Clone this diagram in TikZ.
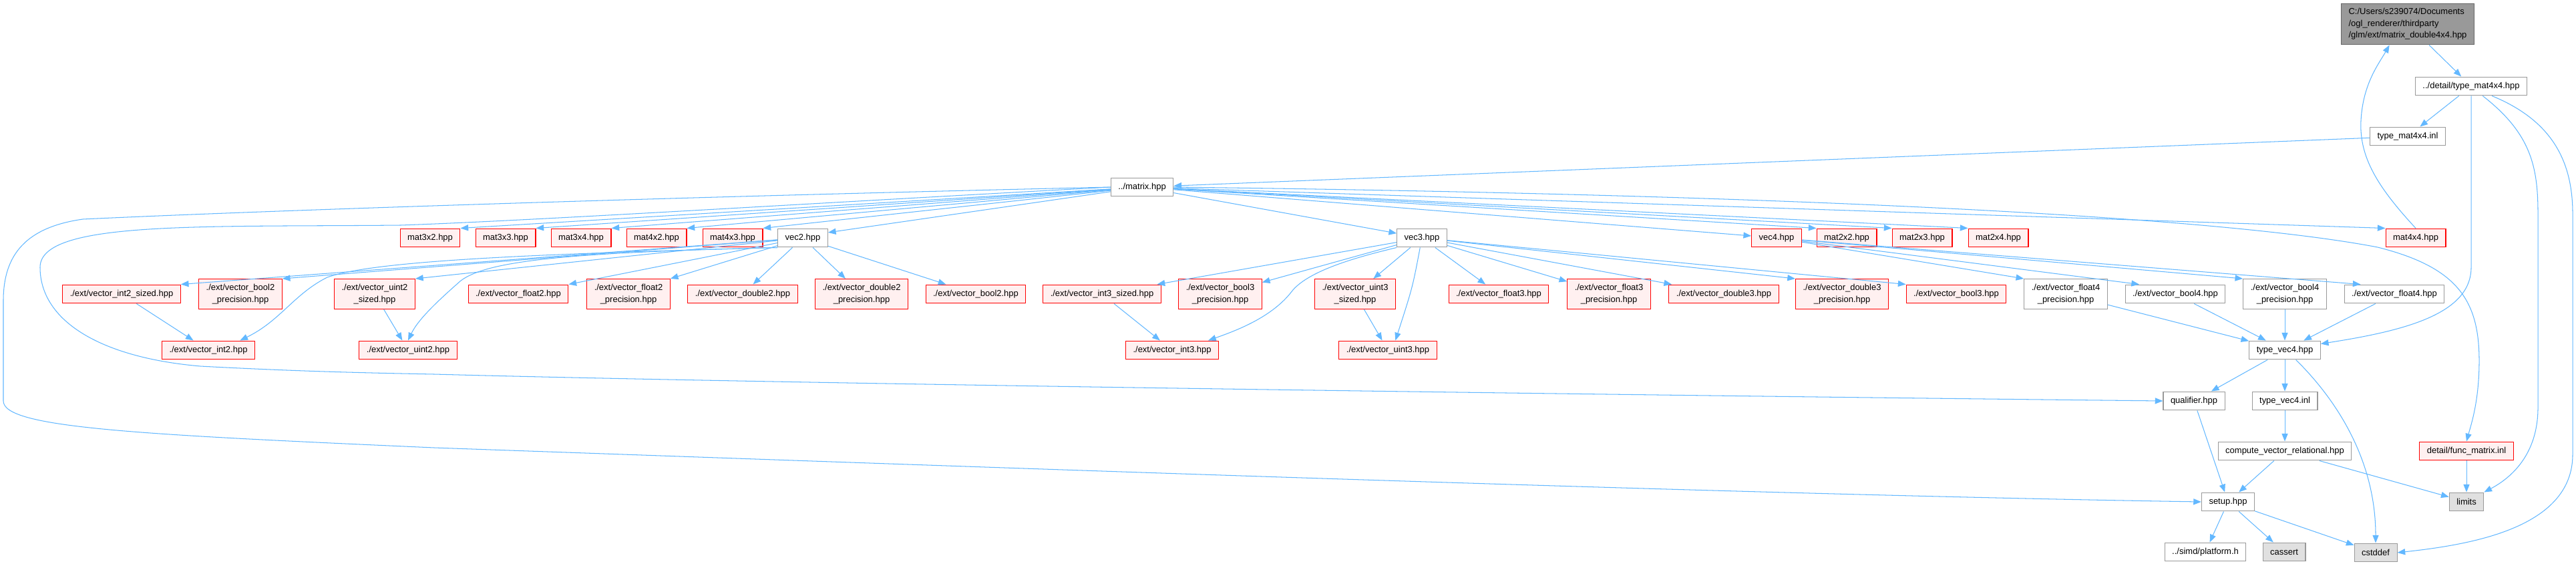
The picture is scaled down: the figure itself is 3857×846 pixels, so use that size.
\documentclass[tikz,border=0pt]{standalone}
\usepackage{fontspec}
\setmainfont{Liberation Sans}
\usetikzlibrary{arrows.meta}

\definecolor{doxblue}{HTML}{63B8FF}
\definecolor{doxgray}{HTML}{999999}
\definecolor{doxdark}{HTML}{666666}
\definecolor{doxlight}{HTML}{E0E0E0}
\definecolor{doxpink}{HTML}{FFF0F0}
\newcommand{\graphfont}{\fontsize{10}{13.5}\selectfont}

\begin{document}
\begin{tikzpicture}[x=0.77pt, y=-0.77pt,
        filenode/.style={rectangle, draw=doxgray, fill=white, line width=0.8pt, inner xsep=8.5pt, inner ysep=3pt, minimum height=21.5pt, font=\graphfont, align=center},
        rednode/.style={filenode, draw=red, fill=doxpink},
        sysnode/.style={filenode, fill=doxlight},
        rootnode/.style={filenode, draw=doxdark, fill=doxgray, align=left, minimum height=47.7pt},
        twoline/.style={minimum height=34.6pt},
        incl/.style={draw=doxblue, line width=0.8pt, -{Triangle[length=9pt, width=7pt]}},
        ]
                \fill[white] (0,0) rectangle (3857,846);
                \useasboundingbox (0,0) rectangle (3857,846);

                % top of the graph
                \node[rootnode] at(3605,36) (root) {C:/Users/s239074/Documents\\/ogl\_renderer/thirdparty\\/glm/ext/matrix\_double4x4.hpp};
                \node[filenode] at(3700,129) (typemat) {../detail/type\_mat4x4.hpp};
                \node[filenode] at(3605,204) (typematinl) {type\_mat4x4.inl};
                \node[filenode] at(1710,280) (matrix) {../matrix.hpp};

                % matrix.hpp includes
                \node[rednode] at(644,356) (mat3x2) {mat3x2.hpp};
                \node[rednode] at(757,356) (mat3x3) {mat3x3.hpp};
                \node[rednode] at(870,356) (mat3x4) {mat3x4.hpp};
                \node[rednode] at(983,356) (mat4x2) {mat4x2.hpp};
                \node[rednode] at(1097,356) (mat4x3) {mat4x3.hpp};
                \node[filenode] at(1202,356) (vec2) {vec2.hpp};
                \node[filenode] at(2129,356) (vec3) {vec3.hpp};
                \node[rednode] at(2660,356) (vec4) {vec4.hpp};
                \node[rednode] at(2765,356) (mat2x2) {mat2x2.hpp};
                \node[rednode] at(2878,356) (mat2x3) {mat2x3.hpp};
                \node[rednode] at(2992,356) (mat2x4) {mat2x4.hpp};
                \node[rednode] at(3617,356) (mat4x4) {mat4x4.hpp};

                % vec2 row
                \node[rednode] at(182,440) (int2sized) {./ext/vector\_int2\_sized.hpp};
                \node[rednode, twoline] at(360,440) (bool2prec) {./ext/vector\_bool2\\\_precision.hpp};
                \node[rednode, twoline] at(561,440) (uint2sized) {./ext/vector\_uint2\\\_sized.hpp};
                \node[rednode] at(776,440) (float2) {./ext/vector\_float2.hpp};
                \node[rednode, twoline] at(941,440) (float2prec) {./ext/vector\_float2\\\_precision.hpp};
                \node[rednode] at(1112,440) (double2) {./ext/vector\_double2.hpp};
                \node[rednode, twoline] at(1290,440) (double2prec) {./ext/vector\_double2\\\_precision.hpp};
                \node[rednode] at(1461,440) (bool2) {./ext/vector\_bool2.hpp};
                \node[rednode] at(312,524) (int2) {./ext/vector\_int2.hpp};
                \node[rednode] at(611,524) (uint2) {./ext/vector\_uint2.hpp};

                % vec3 row
                \node[rednode] at(1650,440) (int3sized) {./ext/vector\_int3\_sized.hpp};
                \node[rednode, twoline] at(1827,440) (bool3prec) {./ext/vector\_bool3\\\_precision.hpp};
                \node[rednode, twoline] at(2029,440) (uint3sized) {./ext/vector\_uint3\\\_sized.hpp};
                \node[rednode] at(2244,440) (float3) {./ext/vector\_float3.hpp};
                \node[rednode, twoline] at(2409,440) (float3prec) {./ext/vector\_float3\\\_precision.hpp};
                \node[rednode] at(2581,440) (double3) {./ext/vector\_double3.hpp};
                \node[rednode, twoline] at(2758,440) (double3prec) {./ext/vector\_double3\\\_precision.hpp};
                \node[rednode] at(2929,440) (bool3) {./ext/vector\_bool3.hpp};
                \node[rednode] at(1755,524) (int3) {./ext/vector\_int3.hpp};
                \node[rednode] at(2078,524) (uint3) {./ext/vector\_uint3.hpp};

                % vec4 row and below
                \node[filenode, twoline] at(3093,440) (float4prec) {./ext/vector\_float4\\\_precision.hpp};
                \node[filenode] at(3257,440) (bool4) {./ext/vector\_bool4.hpp};
                \node[filenode, twoline] at(3421,440) (bool4prec) {./ext/vector\_bool4\\\_precision.hpp};
                \node[filenode] at(3585,440) (float4) {./ext/vector\_float4.hpp};
                \node[filenode] at(3421,524) (typevec4) {type\_vec4.hpp};
                \node[filenode] at(3285,600) (qualifier) {qualifier.hpp};
                \node[filenode] at(3421,600) (typevec4inl) {type\_vec4.inl};
                \node[filenode] at(3421,675) (compute) {compute\_vector\_relational.hpp};
                \node[rednode] at(3693,675) (funcmat) {detail/func\_matrix.inl};
                \node[filenode] at(3336,751) (setup) {setup.hpp};
                \node[sysnode] at(3693,751) (limits) {limits};
                \node[filenode] at(3302,826) (platform) {../simd/platform.h};
                \node[sysnode] at(3420,826) (cassert) {cassert};
                \node[sysnode] at(3557,827) (cstddef) {cstddef};

                % edges at the top
                \draw[incl] (root) -- (typemat);
                \draw[incl] (typemat) -- (typematinl);
                \draw[incl] (typematinl) -- (matrix);
                \draw[incl] (mat4x4.north) .. controls (3560,280) and (3532,235) .. (3535,180) .. controls (3538,125) and (3562,95) .. (root.-131);

                % edges from matrix.hpp
                \draw[incl] (matrix) -- (mat3x2.north east);
                \draw[incl] (matrix) -- (mat3x3.north east);
                \draw[incl] (matrix) -- (mat3x4.north east);
                \draw[incl] (matrix) -- (mat4x2.north east);
                \draw[incl] (matrix) -- (mat4x3.north east);
                \draw[incl] (matrix) -- (vec2.12);
                \draw[incl] (matrix) -- (vec3);
                \draw[incl] (matrix) -- (vec4);
                \draw[incl] (matrix) -- (mat2x2.north west);
                \draw[incl] (matrix) -- (mat2x3.north west);
                \draw[incl] (matrix) -- (mat2x4.north west);
                \draw[incl] (matrix) -- (mat4x4.north west);
                \draw[incl] (matrix.east) .. controls (2600,290) and (3300,320) .. (3560,370) .. controls (3680,400) and (3712,450) .. (3712,540) .. controls (3712,600) and (3700,635) .. (funcmat.north);
                \draw[incl] (matrix.west) .. controls (1200,305) and (800,330) .. (600,337) .. controls (300,340) and (60,330) .. (60,400) .. controls (60,480) and (150,535) .. (300,548) .. controls (450,556) and (550,558) .. (650,560) .. controls (1200,575) and (2500,592) .. (qualifier.west);
                \draw[incl] (matrix.west) .. controls (1000,295) and (400,315) .. (124,328) .. controls (40,340) and (5,380) .. (5,450) -- (5,600) .. controls (5,640) and (200,650) .. (650,670) .. controls (1500,700) and (2600,740) .. (setup.west);

                % edges from vec2.hpp
                \draw[incl] (vec2) -- (int2sized.north east);
                \draw[incl] (vec2) -- (bool2prec.north east);
                \draw[incl] (vec2) -- (uint2sized.north east);
                \draw[incl] (vec2.south west) .. controls (800,380) and (560,390) .. (490,415) .. controls (440,440) and (420,480) .. (int2.17);
                \draw[incl] (vec2.south west) .. controls (850,378) and (730,390) .. (690,420) .. controls (650,455) and (625,480) .. (uint2.north);
                \draw[incl] (vec2) -- (float2.north east);
                \draw[incl] (vec2) -- (float2prec.north east);
                \draw[incl] (vec2) -- (double2);
                \draw[incl] (vec2) -- (double2prec);
                \draw[incl] (vec2) -- (bool2);
                \draw[incl] (int2sized) -- (int2);
                \draw[incl] (uint2sized) -- (uint2);

                % edges from vec3.hpp
                \draw[incl] (vec3) -- (int3sized);
                \draw[incl] (vec3) -- (bool3prec);
                \draw[incl] (vec3.south west) .. controls (2030,385) and (1960,405) .. (1935,435) .. controls (1905,475) and (1850,495) .. (int3.15);
                \draw[incl] (vec3) -- (uint3sized);
                \draw[incl] (vec3) .. controls (2115,430) .. (uint3.52);
                \draw[incl] (vec3) -- (float3);
                \draw[incl] (vec3) -- (float3prec);
                \draw[incl] (vec3) -- (double3);
                \draw[incl] (vec3) -- (double3prec.north west);
                \draw[incl] (vec3) -- (bool3.north west);
                \draw[incl] (int3sized) -- (int3);
                \draw[incl] (uint3sized) -- (uint3);

                % edges from vec4.hpp
                \draw[incl] (vec4) -- (float4prec.north west);
                \draw[incl] (vec4) -- (bool4.165);
                \draw[incl] (vec4) -- (bool4prec.north west);
                \draw[incl] (vec4) -- (float4.164);

                % type_vec4 and the leaves
                \draw[incl] (float4prec) -- (typevec4);
                \draw[incl] (bool4) -- (typevec4);
                \draw[incl] (bool4prec) -- (typevec4);
                \draw[incl] (float4) -- (typevec4);
                \draw[incl] (typemat.south) -- (3700,400) .. controls (3700,470) and (3600,495) .. (typevec4.10);
                \draw[incl] (typemat.-40) .. controls (3790,200) and (3800,250) .. (3800,320) -- (3800,610) .. controls (3800,680) and (3760,715) .. (limits.north east);
                \draw[incl] (typemat.-25) .. controls (3820,180) and (3852,240) .. (3852,320) -- (3852,680) .. controls (3852,790) and (3700,815) .. (cstddef.east);
                \draw[incl] (typevec4) -- (qualifier);
                \draw[incl] (typevec4) -- (typevec4inl);
                \draw[incl] (typevec4.-41) .. controls (3500,600) and (3557,690) .. (cstddef.north);
                \draw[incl] (typevec4inl) -- (compute);
                \draw[incl] (compute) -- (setup);
                \draw[incl] (compute) -- (limits);
                \draw[incl] (qualifier) -- (setup);
                \draw[incl] (funcmat) -- (limits);
                \draw[incl] (setup) -- (platform);
                \draw[incl] (setup) -- (cassert);
                \draw[incl] (setup) -- (cstddef);

            \end{tikzpicture}
\end{document}
